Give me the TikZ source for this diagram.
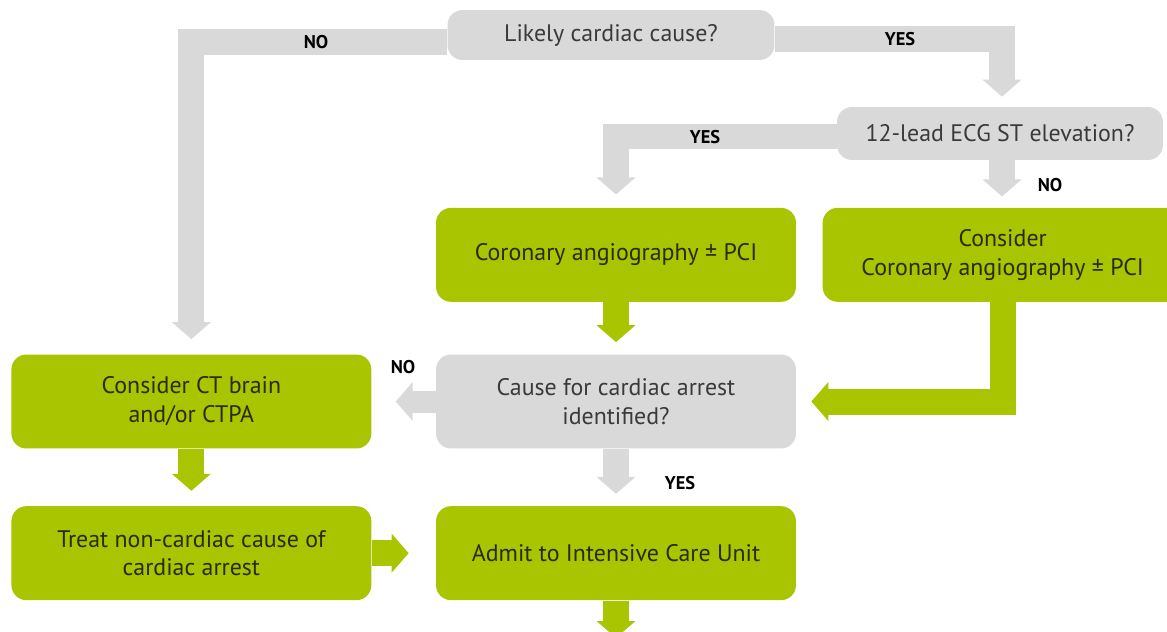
\documentclass[tikz,border=0pt]{standalone}
\usepackage{fontspec}
\setmainfont{PT Sans}
\usetikzlibrary{positioning,arrows.meta}
\definecolor{boxgrey}{RGB}{217,217,217}
\definecolor{boxgreen}{RGB}{169,196,0}
\definecolor{greytext}{RGB}{58,58,58}
\definecolor{greentext}{RGB}{40,44,8}

\begin{document}
\begin{tikzpicture}[x=0.02cm, y=-0.02cm, node distance=1cm, >={Triangle[width=7.6mm,length=3.4mm]},
box/.style={rectangle, rounded corners=3mm, align=center, font=\fontsize{13.6}{16.5}\selectfont},
greybox/.style={box, fill=boxgrey, text=greytext},
greenbox/.style={box, fill=boxgreen, text=greentext, minimum width=7.2cm, minimum height=1.88cm},
bar/.style={line width=5.2mm, ->},
greybar/.style={bar, draw=boxgrey},
greenbar/.style={bar, draw=boxgreen},
answer/.style={font=\fontsize{10.5}{12}\selectfont\bfseries, text=black}]

\useasboundingbox (0,0) rectangle (1167,632);

% questions
\node (likely) [greybox, minimum width=6.54cm, minimum height=1cm] at (611,35) {Likely cardiac cause?};
\node (ecg) [greybox, minimum width=6.52cm, minimum height=1.06cm] at (1000,133.5) {12-lead ECG ST elevation?};
\node (cause) [greybox, minimum width=7.2cm, minimum height=1.88cm] at (616,401.5) {Cause for cardiac arrest\\identified?};

% actions
\node (coro) [greenbox, above = 1.04cm of cause] {Coronary angiography ± PCI};
\node (cons) [greenbox, right = 0.52cm of coro] {Consider\\Coronary angiography ± PCI};
\node (ct) [greenbox, left = 1.28cm of cause] {Consider CT brain\\and/or CTPA};
\node (treat) [greenbox, below = 1.14cm of ct] {Treat non-cardiac cause of\\cardiac arrest};
\node (admit) [greenbox, below = 1.14cm of cause] {Admit to Intensive Care Unit};
\coordinate (out) at (616,638);

% connectors
\draw [greybar, shorten >=3mm] ([yshift=-1.4mm]likely.west) -| (ct.north);
\draw [greybar, shorten >=2mm] ([yshift=-0.8mm]likely.east) -| ([xshift=0.4mm]ecg.north);
\draw [greybar, shorten >=2.6mm] ([yshift=-0.6mm]ecg.west) -| (coro.north);
\draw [greybar, shorten >=2.2mm] ([xshift=0.4mm]ecg.south) -- ([xshift=0.4mm]ecg.south |- cons.north);
\draw [greenbar, shorten >=2.4mm] (coro.south) -- (cause.north);
\draw [greenbar, shorten >=3mm] (cons.south) |- (cause.east);
\draw [greybar, line width=4.4mm, shorten >=4.8mm] (cause.west) -- (ct.east);
\draw [greybar, shorten >=2.4mm] (cause.south) -- (admit.north);
\draw [greenbar, shorten >=3mm] (ct.south) -- (treat.north);
\draw [greenbar, shorten >=5.4mm] (treat.east) -- (admit.west);
\draw [greenbar] (admit.south) -- (out);

% answers
\node (no1) [answer] at (316,42) {NO};
\node (yes1) [answer] at (900,39) {YES};
\node (yes2) [answer] at (705,137) {YES};
\node (no2) [answer] at (1050,185) {NO};
\node (no3) [answer] at (403,367) {NO};
\node (yes3) [answer] at (680,483) {YES};

\end{tikzpicture}
\end{document}
